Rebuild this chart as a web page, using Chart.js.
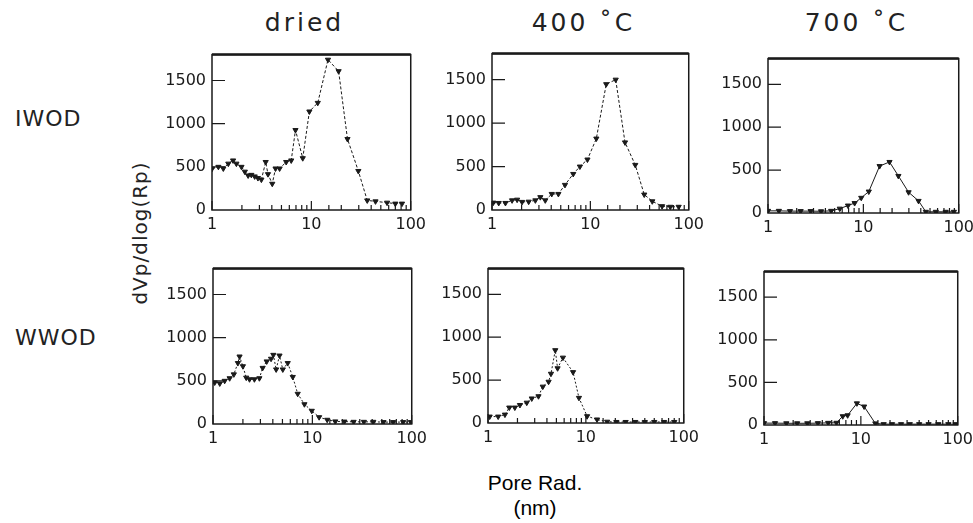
<!DOCTYPE html>
<html>
<head>
<meta charset="utf-8">
<script src="https://cdn.jsdelivr.net/npm/chart.js@4.4.0/dist/chart.umd.min.js"></script>
<style>
  body { margin: 0; width: 973px; height: 523px; background: #fff; position: relative; overflow: hidden; font-family: "DejaVu Sans", sans-serif; color: #222; }
  canvas { position: absolute; }
  .lbl { position: absolute; white-space: nowrap; line-height: 1; }
  .title { font-size: 25px; letter-spacing: 3px; }
</style>
</head>
<body>

<div class="lbl title" id="t0"></div>
<div class="lbl title" id="t1"></div>
<div class="lbl title" id="t2"></div>
<div class="lbl" style="left:15px;top:108px;font-size:22px;letter-spacing:1px;">IWOD</div>
<div class="lbl" style="left:15px;top:327px;font-size:22px;letter-spacing:1px;">WWOD</div>
<div class="lbl" style="left:140px;top:233px;font-size:20px;letter-spacing:1px;transform:translate(-50%,-50%) rotate(-90deg);">dVp/dlog(Rp)</div>
<div class="lbl" style="left:535px;top:472px;font-size:21px;font-family:'Liberation Sans',sans-serif;color:#000;transform:translateX(-50%);">Pore Rad.</div>
<div class="lbl" style="left:535px;top:497px;font-size:21px;font-family:'Liberation Sans',sans-serif;color:#000;transform:translateX(-50%);">(nm)</div>

<script>
// ---- data ----
const columnTitles = ['dried', '400 ˚C', '700 ˚C'];
const xTickLabels = [1, 10, 100];
const yTickValues = [0, 500, 1000, 1500];

// IWOD, dried
const driedIwodX = [1.0, 1.16, 1.3, 1.46, 1.63, 1.76, 1.98, 2.14, 2.31, 2.49, 2.69, 2.9, 3.14, 3.47, 3.66, 4.04, 4.36, 4.79, 5.58, 6.27, 6.92, 8.19, 9.55, 11.6, 14.7, 18.8, 23.1, 29.7, 36.5, 44.2, 57.8, 70, 81.7];
const driedIwodY = [478, 500, 481, 537, 574, 537, 500, 444, 400, 407, 389, 370, 352, 556, 415, 304, 481, 481, 556, 574, 926, 600, 1141, 1241, 1741, 1608, 822, 452, 111, 100, 85, 74, 74];

// IWOD, 400 C
const c400IwodX = [1.03, 1.17, 1.37, 1.6, 1.8, 2.02, 2.36, 2.76, 3.1, 3.48, 4.05, 4.73, 5.52, 6.7, 7.83, 9.34, 11.5, 14.5, 18.1, 22.5, 28.6, 35.3, 42.6, 53.6, 65, 79];
const c400IwodY = [85, 81, 81, 111, 119, 93, 96, 111, 148, 111, 185, 185, 289, 415, 500, 581, 822, 1448, 1500, 778, 519, 178, 100, 44, 37, 37];

// IWOD, 700 C
const c700IwodX = [1.0, 1.3, 1.7, 2.2, 2.8, 3.6, 4.6, 5.66, 6.9, 8.1, 9.5, 11.4, 14.8, 18.8, 23.3, 29.8, 37.9, 45.2, 57.5, 73, 89];
const c700IwodY = [25, 25, 22, 22, 22, 20, 25, 51, 87, 116, 177, 250, 547, 595, 432, 242, 141, 14, 14, 14, 14];

// WWOD, dried
const driedWwodX = [1.04, 1.17, 1.31, 1.47, 1.62, 1.78, 1.85, 2.0, 2.16, 2.33, 2.61, 2.93, 3.16, 3.47, 3.84, 4.05, 4.32, 4.67, 5.04, 5.65, 6.35, 7.12, 8.32, 9.86, 11.7, 14.1, 17, 21, 26, 33, 41, 52, 65, 82, 98];
const driedWwodY = [481, 470, 500, 530, 575, 706, 782, 669, 537, 518, 518, 530, 650, 725, 756, 801, 632, 793, 632, 706, 545, 350, 229, 153, 79, 49, 30, 28, 25, 25, 25, 22, 22, 22, 22];

// WWOD, 400 C
const c400WwodX = [1.04, 1.27, 1.49, 1.65, 1.88, 2.12, 2.49, 2.8, 3.28, 3.63, 4.16, 4.4, 4.87, 5.14, 5.83, 7.4, 8.5, 10.3, 13.0, 16.5, 20.5, 25.5, 32, 40, 50, 63, 80];
const c400WwodY = [75, 75, 98, 180, 180, 210, 237, 286, 312, 424, 481, 574, 849, 638, 762, 593, 293, 79, 41, 15, 12, 12, 12, 12, 12, 12, 12];

// WWOD, 700 C
const c700WwodX = [1.0, 1.3, 1.7, 2.2, 2.8, 3.6, 4.6, 5.6, 6.5, 7.3, 9.1, 10.8, 14.1, 17.2, 21, 26, 32, 40, 50, 63, 80, 95];
const c700WwodY = [22, 22, 20, 20, 20, 22, 25, 26, 103, 114, 254, 217, 19, 10, 10, 10, 10, 10, 10, 10, 10, 10];

// ---- layout: plot areas of the six panels [left, top, right, bottom] ----
const panels = [
  { x: driedIwodX, y: driedIwodY, area: [212, 49, 411, 210], dash: [3, 2] },
  { x: c400IwodX,  y: c400IwodY,  area: [492, 48, 689, 210], dash: [3, 2] },
  { x: c700IwodX,  y: c700IwodY,  area: [768, 53, 959, 213], dash: [] },
  { x: driedWwodX, y: driedWwodY, area: [213, 263, 412, 424], dash: [2, 2] },
  { x: c400WwodX,  y: c400WwodY,  area: [488, 263, 684, 423], dash: [2, 2] },
  { x: c700WwodX,  y: c700WwodY,  area: [764, 266, 958, 425], dash: [] }
];

const Y_AXIS_W = 50, X_AXIS_H = 24, PAD_TOP = 10, PAD_RIGHT = 20;
const ink = '#1a1a1a';
const tickFont = { family: 'DejaVu Sans', size: 16 };

// box around the plot plus the inward tick marks
const frameTicks = {
  id: 'frameTicks',
  afterDraw(chart) {
    const { ctx, chartArea: a, scales: { x, y } } = chart;
    ctx.save();
    ctx.strokeStyle = ink;
    ctx.lineWidth = 1.5;
    ctx.strokeRect(a.left, a.top, a.right - a.left, a.bottom - a.top);
    ctx.lineWidth = 2.5;
    ctx.beginPath();
    ctx.moveTo(a.left, a.top);
    ctx.lineTo(a.right, a.top);
    ctx.stroke();

    ctx.lineWidth = 1.2;
    ctx.beginPath();
    y.ticks.forEach(t => {
      if (t.value === 0) return;
      const py = y.getPixelForValue(t.value);
      ctx.moveTo(a.left, py);
      ctx.lineTo(a.left + 13, py);
    });
    x.ticks.forEach(t => {
      const px = x.getPixelForValue(t.value);
      const len = xTickLabels.includes(t.value) ? 9 : 5;
      ctx.moveTo(px, a.bottom);
      ctx.lineTo(px, a.bottom - len);
    });
    ctx.stroke();
    ctx.restore();
  }
};

function makePanel(p) {
  const [l, t, r, b] = p.area;
  const cv = document.createElement('canvas');
  cv.width = (r - l) + Y_AXIS_W + PAD_RIGHT;
  cv.height = (b - t) + PAD_TOP + X_AXIS_H;
  cv.style.left = (l - Y_AXIS_W) + 'px';
  cv.style.top = (t - PAD_TOP) + 'px';
  document.body.appendChild(cv);

  new Chart(cv, {
    type: 'scatter',
    data: {
      datasets: [{
        data: p.x.map((v, k) => ({ x: v, y: p.y[k] })),
        showLine: true,
        borderColor: ink,
        borderWidth: 1,
        borderDash: p.dash,
        pointStyle: 'triangle',
        rotation: 180,
        pointRadius: 3,
        pointBackgroundColor: ink,
        pointBorderColor: ink,
        pointBorderWidth: 1
      }]
    },
    options: {
      responsive: false,
      animation: false,
      devicePixelRatio: 1,
      layout: { padding: { top: PAD_TOP, right: PAD_RIGHT, left: 0, bottom: 0 } },
      plugins: { legend: { display: false }, tooltip: { enabled: false } },
      scales: {
        x: {
          type: 'logarithmic', min: 1, max: 100,
          afterFit: s => { s.height = X_AXIS_H; },
          grid: { display: false, drawTicks: false },
          border: { display: false },
          ticks: {
            autoSkip: false, maxRotation: 0, padding: 5, font: tickFont, color: ink,
            callback: v => xTickLabels.includes(v) ? String(v) : ''
          }
        },
        y: {
          min: 0, max: 1800,
          afterFit: s => { s.width = Y_AXIS_W; },
          afterBuildTicks: s => { s.ticks = yTickValues.map(v => ({ value: v })); },
          grid: { display: false, drawTicks: false },
          border: { display: false },
          ticks: { padding: 6, font: tickFont, color: ink, callback: v => String(v) }
        }
      }
    },
    plugins: [frameTicks]
  });
}

panels.forEach(makePanel);

// column titles, a little left of each top panel's centre
columnTitles.forEach((txt, i) => {
  const el = document.getElementById('t' + i);
  const [l, , r] = panels[i].area;
  el.textContent = txt;
  el.style.left = ((l + r) / 2 - 7) + 'px';
  el.style.top = '10px';
  el.style.transform = 'translateX(-50%)';
});
</script>
</body>
</html>
